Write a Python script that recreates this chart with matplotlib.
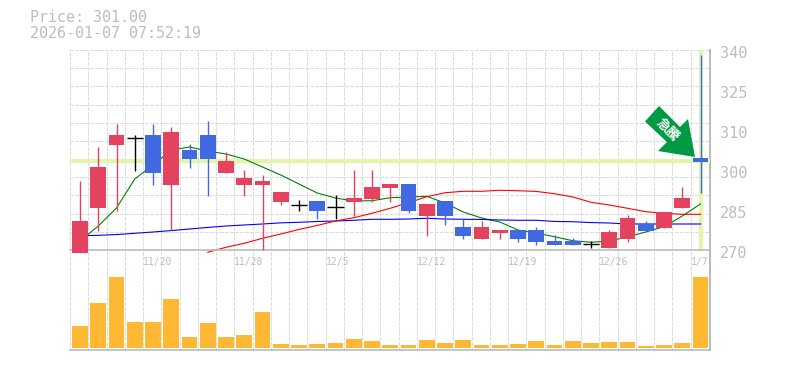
import matplotlib
matplotlib.use("Agg")
import matplotlib.pyplot as plt
from matplotlib.patches import Polygon
from matplotlib.ticker import FixedLocator, NullFormatter

W, H = 785, 370

# ohlc, red up / blue down / black doji
opens = [269.05, 284.8, 306.85, 309.1, 310.25, 292.85, 305, 310.25, 297.05, 292.85, 292.85, 286.9,
         285.85, 287.15, 285.05, 286.8, 287.85, 291.7, 293.1, 281.9, 287.15, 278.05, 273.85, 275.95,
         277, 277, 273.15, 273.15, 272.1, 270.7, 273.85, 279.1, 277.7, 284.7, 302.2]
closes = [280.15, 299.05, 310.25, 309.1, 297.05, 311.3, 301.85, 301.85, 301.15, 295.2, 294.15, 290.3,
          285.85, 283.65, 285.05, 288.2, 292.05, 293.1, 283.65, 286.1, 281.9, 274.9, 278.05, 277,
          273.85, 272.9, 271.75, 271.75, 272.1, 276.3, 281.2, 276.65, 283.3, 288.2, 300.8]
highs = [294.15, 306.05, 314.1, 310.25, 314.1, 313.05, 307.1, 315.15, 304.2, 298, 296.25, 290.3,
         287.5, 287.15, 289.25, 298, 298, 293.1, 293.1, 286.1, 287.15, 281.2, 280.15, 277,
         277, 278.05, 275.25, 274.2, 273.15, 277, 282.25, 280.15, 283.3, 292.05, 338.25]
lows = [269.05, 276.75, 283.75, 297.75, 292.85, 277, 298.8, 289, 297.05, 289, 270, 285.85,
        283.65, 280.85, 280.85, 281.9, 286.8, 286.8, 283, 274.9, 278.75, 273.85, 273.85, 273.85,
        272.8, 271.85, 271.75, 271.75, 270.7, 270.7, 272.8, 276.65, 277.7, 284.7, 289.95]

ma_short = [273.15, 278.4, 284.7, 294.85, 299.75, 305, 306.05, 304.65, 303.6, 301.85, 299.05, 296.25,
            293.1, 289.95, 288.2, 287.15, 287.25, 288.3, 288.55, 288.8, 286.45, 283.3, 281.2, 279.8,
            277, 275.95, 274.65, 273.25, 272.7, 273.15, 274.55, 276.3, 278.15, 281.9, 286.1]
ma_mid = [274.97, 275.15, 275.4, 275.85, 276.3, 276.8, 277.35, 277.9, 278.4, 278.75, 279.1, 279.5,
          279.7, 279.98, 280.15, 280.4, 280.75, 280.75, 280.85, 281.1, 280.85, 280.75, 280.7, 280.5,
          280.4, 280.4, 280, 279.9, 279.6, 279.45, 279.1, 279.1, 279.1, 279.1, 279.1]
ma_long = [None] * 7 + [269.2, 270.95, 272.35, 274.1, 275.6, 277.2, 278.6, 280.15, 281.3, 282.85, 284.6,
                        286.55, 288.65, 290.05, 290.55, 290.55, 290.9, 290.75, 290.5, 289.7, 288.55,
                        286.7, 285.75, 284.6, 283.4, 282.85, 282.5, 282.5]
volumes = [22, 45, 71, 26, 26, 49, 11, 25, 11, 13, 36, 4, 3, 4, 5, 9, 7, 3,
           3, 8, 5, 8, 3, 3, 4, 7, 3, 7, 5, 6, 6, 2, 3, 5, 71]

price = 301.0
stamp = "2026-01-07 07:52:19"
date_pos = [4, 9, 14, 19, 24, 29, 34]
date_labels = ["11/20", "11/28", "12/5", "12/12", "12/19", "12/26", "1/7"]
price_labels = ["340", "325", "310", "300", "285", "270"]

RED = "#e3435f"
BLUE = "#4169e1"
GRID = "#dddddd"
AXIS = "#bbbbbb"
TEXT = "#bdbdbd"
HILITE = "#e4f5ab"
XLIM = (-0.548, 34.52)
PX = 0.72  # one pixel in points
DASH = (0, (3, 2))

plt.rcParams["font.family"] = ["DejaVu Sans Mono"]
fig = plt.figure(figsize=(W / 100, H / 100), dpi=100, facecolor="white")


def box(x0, y0, x1, y1):
    return [x0 / W, 1 - y1 / H, (x1 - x0) / W, (y1 - y0) / H]


# grid panel behind everything, so the vertical dashes run through the gap
bg = fig.add_axes(box(70, 50, 710, 350), zorder=0)
bg.set_xlim(*XLIM)
bg.set_ylim(0, 1)
bg.axis("off")
for i in range(35):
    bg.axvline(i + XLIM[0], color=GRID, lw=PX, ls=DASH, antialiased=False)
bg.axvline(XLIM[1], color=AXIS, lw=1.2, antialiased=False, clip_on=False)

ax = fig.add_axes(box(70, 50, 710, 250), zorder=1)
ax.patch.set_alpha(0)
ax.set_xlim(*XLIM)
ax.set_ylim(270, 340)
for s in ["top", "left", "right"]:
    ax.spines[s].set_visible(False)
ax.spines["bottom"].set_color(AXIS)
ax.spines["bottom"].set_linewidth(1.2)
ax.tick_params(length=0, labelbottom=False, labelleft=False)
ax.yaxis.set_major_locator(FixedLocator([270 + 70 * k / 11 for k in range(12)]))
ax.xaxis.set_major_formatter(NullFormatter())
ax.grid(axis="y", color=GRID, lw=PX, ls=DASH, antialiased=False)
ax.set_axisbelow(True)

ax.axhline(price, color=HILITE, lw=3, zorder=1.5)
ax.axvline(34, color=HILITE, lw=3, zorder=1.5)

xs = list(range(35))
ax.plot(xs, ma_short, color="#008000", lw=0.8, zorder=2)
ax.plot(xs, ma_mid, color="#0000ff", lw=0.8, zorder=2)
ax.plot(xs, ma_long, color="#ff0000", lw=0.8, zorder=2, clip_on=False)

for i in xs:
    o, c, hi, lo = opens[i], closes[i], highs[i], lows[i]
    col = "black" if o == c else (RED if c > o else BLUE)
    ax.plot([i, i], [lo, hi], color=col, lw=1.0, zorder=3, clip_on=False, solid_capstyle="butt")
    if o == c:
        ax.plot([i - 0.44, i + 0.44], [o, o], color=col, lw=1.0, zorder=3, solid_capstyle="butt")
    else:
        ax.bar(i, abs(c - o), bottom=min(o, c), width=0.875, color=col, zorder=3, clip_on=False)

for pos, lab in zip(date_pos, date_labels):
    ax.annotate(lab, (pos + XLIM[0], 270), xytext=(0, -12), textcoords="offset pixels", fontsize=7,
                color=TEXT, ha="left", va="center", annotation_clip=False)

for k, lab in enumerate(price_labels):
    fig.text(720 / W, 1 - (53 + 40 * k) / H, lab, fontsize=11, color=TEXT, ha="left", va="center")

fig.text(30 / W, 1 - 18 / H, f"Price: {price:.2f}", fontsize=10.8, color=TEXT, va="center")
fig.text(30 / W, 1 - 33 / H, stamp, fontsize=10.8, color=TEXT, va="center")

vol = fig.add_axes(box(70, 270, 710, 350), zorder=1)
vol.patch.set_alpha(0)
vol.set_xlim(*XLIM)
vol.set_ylim(-2, 78)
for s in ["top", "left", "right"]:
    vol.spines[s].set_visible(False)
vol.spines["bottom"].set_color(AXIS)
vol.spines["bottom"].set_linewidth(1.2)
vol.set_xticks([])
vol.set_yticks([])
vol.bar(xs, volumes, width=0.875, color="#ffb833")

# arrow sticker pointing at the last candle
arrow = [(659, 106), (645, 121.5), (667, 142), (658, 151), (695, 157), (688, 119), (680, 127)]
fig.add_artist(Polygon([(x / W, 1 - y / H) for x, y in arrow], closed=True, transform=fig.transFigure,
                       facecolor="#009944", edgecolor="none", zorder=5))
fig.text(667 / W, 1 - 130 / H, "急騰", family=["Noto Sans CJK JP", "DejaVu Sans"], fontsize=9.5,
         fontweight="bold", color="white", rotation=-45, ha="center", va="center", zorder=6)

fig.savefig("out.png", dpi=100)
